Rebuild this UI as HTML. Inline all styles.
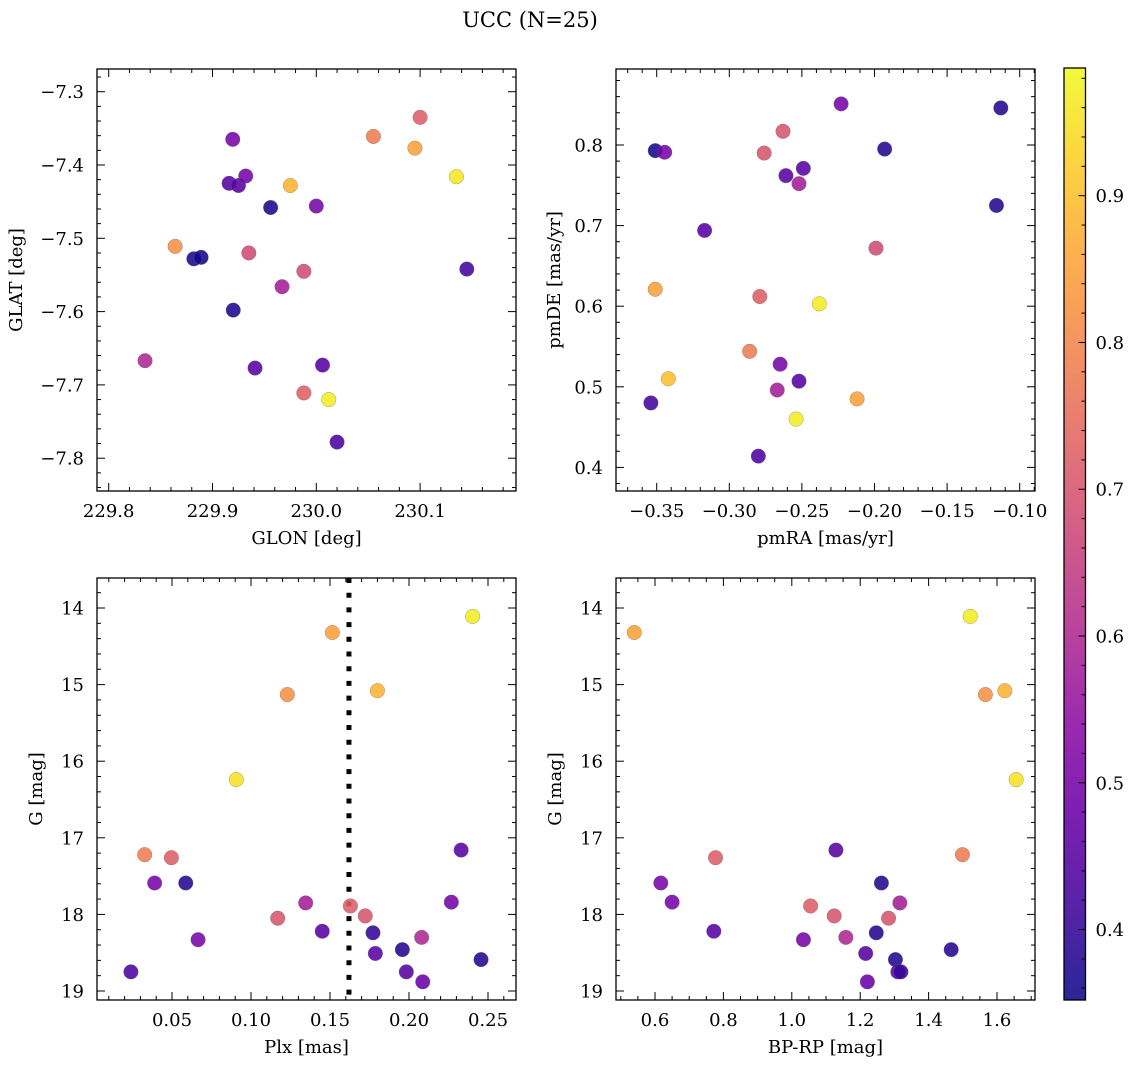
<!DOCTYPE html>
<html><head><meta charset="utf-8">
<style>
html,body{margin:0;padding:0;background:#fff;}
svg{display:block;font-family:"DejaVu Serif","Liberation Serif",serif;}
</style></head>
<body>
<svg id="fig" width="1136" height="1068" viewBox="0 0 1136 1068" xmlns="http://www.w3.org/2000/svg">
<defs>
<linearGradient id="plasmaGrad" x1="0" y1="1" x2="0" y2="0"></linearGradient>
</defs>
<text x="530" y="27" font-size="21" text-anchor="middle">UCC (N=25)</text>
</svg>
<script>
// ---- data ----
const colorVals = [0.50,0.45,0.45,0.50,0.88,0.37,0.50,0.82,0.37,0.36,0.68,0.68,0.58,0.37,0.60,0.45,0.45,0.72,0.97,0.43,0.78,0.85,0.72,0.96,0.42];
const glon = [229.9195,229.916,229.925,229.932,229.975,229.956,230.000,229.864,229.882,229.889,229.935,229.988,229.967,229.920,229.835,229.941,230.006,229.988,230.012,230.020,230.055,230.095,230.100,230.135,230.145];
const glat = [-7.365,-7.425,-7.428,-7.415,-7.428,-7.458,-7.456,-7.511,-7.528,-7.526,-7.520,-7.545,-7.566,-7.598,-7.667,-7.677,-7.673,-7.711,-7.720,-7.778,-7.361,-7.377,-7.335,-7.416,-7.542];

const pmColor = [0.36,0.50,0.50,0.38,0.70,0.70,0.38,0.45,0.45,0.58,0.38,0.45,0.68,0.85,0.72,0.97,0.78,0.50,0.90,0.45,0.58,0.85,0.42,0.97,0.43];
const pmra = [-0.351,-0.3445,-0.223,-0.113,-0.263,-0.276,-0.193,-0.249,-0.261,-0.252,-0.116,-0.317,-0.199,-0.351,-0.279,-0.238,-0.286,-0.265,-0.342,-0.252,-0.267,-0.212,-0.354,-0.254,-0.280];
const pmde = [0.793,0.791,0.851,0.846,0.817,0.790,0.795,0.771,0.762,0.752,0.725,0.694,0.672,0.621,0.612,0.603,0.544,0.528,0.510,0.507,0.496,0.485,0.480,0.460,0.414];

const cmdColor = [0.97,0.85,0.82,0.88,0.95,0.78,0.72,0.50,0.38,0.45,0.58,0.50,0.72,0.70,0.70,0.45,0.40,0.50,0.60,0.45,0.38,0.45,0.48,0.38,0.43];
const plx = [0.2403,0.1515,0.123,0.180,0.0907,0.0327,0.0496,0.039,0.0587,0.233,0.1346,0.2268,0.1629,0.1723,0.1169,0.1451,0.1772,0.0665,0.208,0.1787,0.1958,0.1983,0.2087,0.2456,0.024];
const gmagPlx = [14.11,14.32,15.13,15.08,16.24,17.22,17.26,17.59,17.59,17.16,17.85,17.84,17.89,18.02,18.05,18.22,18.24,18.33,18.30,18.51,18.46,18.75,18.88,18.59,18.75];

const brColor = [0.85,0.97,0.82,0.88,0.95,0.78,0.72,0.50,0.38,0.45,0.50,0.58,0.72,0.70,0.70,0.38,0.45,0.50,0.60,0.45,0.38,0.38,0.45,0.40,0.48];
const bprp = [0.5395,1.522,1.566,1.623,1.656,1.499,0.777,0.617,1.262,1.129,0.650,1.316,1.055,1.283,1.124,1.247,0.772,1.034,1.158,1.216,1.466,1.303,1.310,1.319,1.221];
const gmagCmd = [14.32,14.11,15.13,15.08,16.24,17.22,17.26,17.59,17.59,17.16,17.84,17.85,17.89,18.05,18.02,18.24,18.22,18.33,18.30,18.51,18.46,18.59,18.75,18.75,18.88];

const plxLine = [0.162];

const tlXTicks = [229.8,229.9,230.0,230.1];
const tlYTicks = [-7.3,-7.4,-7.5,-7.6,-7.7,-7.8];
const trXTicks = [-0.35,-0.30,-0.25,-0.20,-0.15,-0.10];
const trYTicks = [0.4,0.5,0.6,0.7,0.8];
const blXTicks = [0.05,0.10,0.15,0.20,0.25];
const gTicks = [14,15,16,17,18,19];
const brXTicks = [0.6,0.8,1.0,1.2,1.4,1.6];
const cbTicks = [0.4,0.5,0.6,0.7,0.8,0.9];

const vmin = 0.352, vmax = 0.987;

// ---- helpers ----
const NS = "http://www.w3.org/2000/svg";
const svg = document.getElementById('fig');
function mk(tag, attrs, parent){
  const e = document.createElementNS(NS, tag);
  for (const k in attrs) e.setAttribute(k, attrs[k]);
  (parent||svg).appendChild(e);
  return e;
}
const plasma = [[0,13,8,135],[0.1,65,4,157],[0.2,106,0,168],[0.3,143,13,164],[0.4,177,42,144],[0.5,204,71,120],[0.6,225,100,98],[0.7,242,132,75],[0.8,252,166,54],[0.9,252,206,37],[1.0,240,249,33]];
function cmap(t){
  t = Math.max(0, Math.min(1, t));
  for (let i=0;i<plasma.length-1;i++){
    const a=plasma[i], b=plasma[i+1];
    if (t<=b[0]){
      const f=(t-a[0])/(b[0]-a[0]);
      return `rgb(${Math.round(a[1]+f*(b[1]-a[1]))},${Math.round(a[2]+f*(b[2]-a[2]))},${Math.round(a[3]+f*(b[3]-a[3]))})`;
    }
  }
  return 'rgb(240,249,33)';
}
function fmt(v, d){ const s = v.toFixed(d); return s.startsWith('-') ? '\u2212'+s.slice(1) : s; }
const FS = 18;

function panel(cfg){
  const {name, box, xd, yd, xt, yt, xminor, yminor, xdec, ydec, xlabel, ylabel, invertY} = cfg;
  const g = mk('g', {});
  
  
  const sx = v => box.x + (v - xd[0])/(xd[1]-xd[0])*box.w;
  const sy = invertY ? (v => box.y + (v - yd[0])/(yd[1]-yd[0])*box.h)
                     : (v => box.y + box.h - (v - yd[0])/(yd[1]-yd[0])*box.h);
  const tg = mk('g', {stroke:'#000','stroke-width':1}, g);
  
  
  const xs0 = Math.ceil(Math.min(xd[0],xd[1])/xminor - 1e-6), xs1 = Math.floor(Math.max(xd[0],xd[1])/xminor + 1e-6);
  for (let i=xs0;i<=xs1;i++){
    const v=i*xminor, X=sx(v);
    const maj = xt.some(t=>Math.abs(t-v)<xminor*0.1);
    const L = maj?8:4;
    mk('line',{x1:X,x2:X,y1:box.y+box.h,y2:box.y+box.h-L},tg);
    mk('line',{x1:X,x2:X,y1:box.y,y2:box.y+L},tg);
  }
  const ylo=Math.min(yd[0],yd[1]), yhi=Math.max(yd[0],yd[1]);
  const ys0 = Math.ceil(ylo/yminor - 1e-6), ys1 = Math.floor(yhi/yminor + 1e-6);
  for (let i=ys0;i<=ys1;i++){
    const v=i*yminor, Y=sy(v);
    const maj = yt.some(t=>Math.abs(t-v)<yminor*0.1);
    const L = maj?8:4;
    mk('line',{x1:box.x,x2:box.x+L,y1:Y,y2:Y},tg);
    mk('line',{x1:box.x+box.w,x2:box.x+box.w-L,y1:Y,y2:Y},tg);
  }
  xt.forEach(v=>{
    const t = mk('text',{x:sx(v),y:box.y+box.h+26,'font-size':FS,'text-anchor':'middle'},g);
    
    
    t.textContent = fmt(v,xdec);
  });
  yt.forEach(v=>{
    const t = mk('text',{x:box.x-13,y:sy(v)+6.5,'font-size':FS,'text-anchor':'end'},g);
    
    
    t.textContent = fmt(v,ydec);
  });
  const xl = mk('text',{x:box.x+box.w/2,y:box.y+box.h+53,'font-size':FS,'text-anchor':'middle'},g);
  
  
  xl.textContent = xlabel;
  const yx = cfg.ylx;
  const yl = mk('text',{x:yx,y:box.y+box.h/2,'font-size':FS,'text-anchor':'middle',transform:`rotate(-90 ${yx} ${box.y+box.h/2})`},g);
  
  
  yl.textContent = ylabel;
  if (cfg.vline){
    cfg.vline.forEach(v=>{
      const l = mk('line',{x1:sx(v),x2:sx(v),y1:box.y,y2:box.y+box.h,stroke:'#000','stroke-width':5,'stroke-dasharray':'5 9.7'},g);
      
      
    });
  }
  const pg = mk('g',{},g);
  
  
  cfg.xs.forEach((xv,i)=>{
    const c = mk('circle',{cx:sx(xv),cy:sy(cfg.ys[i]),r:7.3,fill:cmap((cfg.cs[i]-vmin)/(vmax-vmin)),'fill-opacity':0.88,stroke:'#666','stroke-opacity':0.6,'stroke-width':0.5},pg);
    
    
  });
  const fr = mk('rect',{x:box.x,y:box.y,width:box.w,height:box.h,fill:'none',stroke:'#000','stroke-width':1.3},g);
  
  
}

panel({name:'glon-glat-panel', box:{x:97,y:69,w:419,h:422},
  xd:[229.8+(97-108.7)/1038, 229.8+(516-108.7)/1038],
  yd:[-7.3-(491-91.7)/733, -7.3+(91.7-69)/733],
  xt:tlXTicks, yt:tlYTicks, xminor:0.02, yminor:0.02, xdec:1, ydec:1,
  xlabel:'GLON [deg]', ylabel:'GLAT [deg]', ylx:22, xs:glon, ys:glat, cs:colorVals});
panel({name:'pm-panel', box:{x:616,y:69,w:419,h:422},
  xd:[-0.35+(616-656.7)/1452, -0.35+(1035-656.7)/1452],
  yd:[0.8-(491-145)/806, 0.8+(145-69)/806],
  xt:trXTicks, yt:trYTicks, xminor:0.01, yminor:0.02, xdec:2, ydec:1,
  xlabel:'pmRA [mas/yr]', ylabel:'pmDE [mas/yr]', ylx:560, xs:pmra, ys:pmde, cs:pmColor});
panel({name:'plx-g-panel', box:{x:97,y:578,w:419,h:422}, invertY:true,
  xd:[0.05+(97-172)/1580, 0.05+(516-172)/1580],
  yd:[14-(608-578)/76.6, 14+(1000-608)/76.6],
  xt:blXTicks, yt:gTicks, xminor:0.01, yminor:0.2, xdec:2, ydec:0,
  xlabel:'Plx [mas]', ylabel:'G [mag]', ylx:42, xs:plx, ys:gmagPlx, cs:cmdColor, vline:plxLine});
panel({name:'cmd-panel', box:{x:616,y:578,w:419,h:422}, invertY:true,
  xd:[0.6+(616-655)/342, 0.6+(1035-655)/342],
  yd:[14-(608-578)/76.6, 14+(1000-608)/76.6],
  xt:brXTicks, yt:gTicks, xminor:0.05, yminor:0.2, xdec:1, ydec:0,
  xlabel:'BP-RP [mag]', ylabel:'G [mag]', ylx:561, xs:bprp, ys:gmagCmd, cs:brColor});

// ---- colorbar ----
const grad = document.getElementById('plasmaGrad');
plasma.forEach(s=>{
  mk('stop',{offset:s[0],'stop-color':`rgb(${s[1]},${s[2]},${s[3]})`,'stop-opacity':0.88},grad);
});
const cb = {x:1064,y:68,w:21.5,h:932};
const cbg = mk('g',{});


mk('rect',{x:cb.x,y:cb.y,width:cb.w,height:cb.h,fill:'url(#plasmaGrad)'},cbg);
const cy = v => cb.y + cb.h - (v - vmin)/(vmax-vmin)*cb.h;
for (let i=Math.ceil(vmin/0.02);i<=Math.floor(vmax/0.02);i++){
  const v=i*0.02, Y=cy(v);
  const maj = cbTicks.some(t=>Math.abs(t-v)<0.002);
  mk('line',{x1:cb.x+cb.w,x2:cb.x+cb.w-(maj?7:4),y1:Y,y2:Y,stroke:'#000','stroke-width':1},cbg);
}
cbTicks.forEach(v=>{
  const t = mk('text',{x:cb.x+cb.w+10,y:cy(v)+6.5,'font-size':FS},cbg);
  
  
  t.textContent = v.toFixed(1);
});
mk('rect',{x:cb.x,y:cb.y,width:cb.w,height:cb.h,fill:'none',stroke:'#000','stroke-width':1.3},cbg);
</script>
</body></html>
